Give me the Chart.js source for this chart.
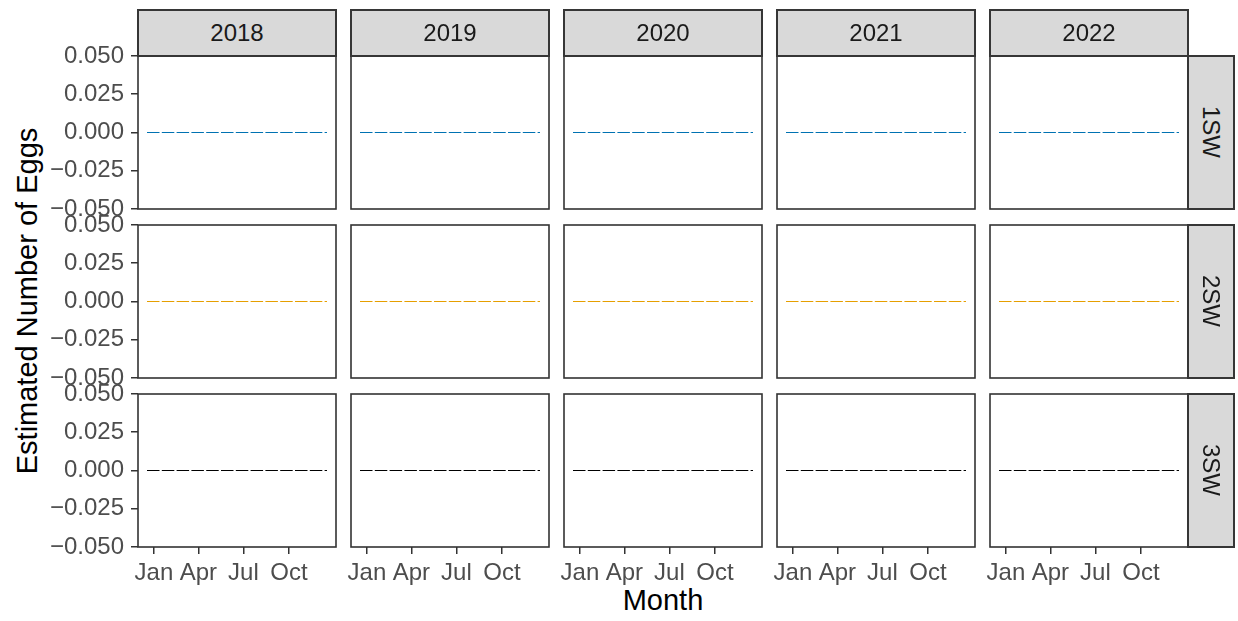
<!DOCTYPE html>
<html lang="en">
<head>
    <meta charset="UTF-8">
    <title>Estimated Number of Eggs</title>
    <script src="https://cdn.jsdelivr.net/npm/chart.js"></script>
    <style>
        body {
            margin: 0;
            width: 1238px;
            height: 621px;
            background: #fff;
            overflow: hidden;
            position: relative;
            font-family: "Liberation Sans", Arial, sans-serif;
        }
        canvas { position: absolute; }
        .strip {
            position: absolute;
            box-sizing: border-box;
            background: #D9D9D9;
            border: 2px solid #363636;
            color: #1A1A1A;
            font-size: 24px;
            display: flex;
            align-items: center;
            justify-content: center;
        }
        .strip.right span { writing-mode: vertical-rl; }
        .title {
            position: absolute;
            font-size: 29px;
            line-height: 1;
            white-space: nowrap;
            color: #000;
        }
    </style>
</head>
<body>
    <div class="title" id="xTitle">Month</div>
    <div class="title" id="yTitle">Estimated Number of Eggs</div>

    <script>
        // facets
        const years = ['2018', '2019', '2020', '2021', '2022'];
        const ageClasses = ['1SW', '2SW', '3SW'];

        // x position of each monthly value, in days from 1 Jan
        const monthDay = [-14, 19, 52, 85, 118, 151, 184, 217, 250, 284, 317, 350];

        // estimated eggs per month (same in every year)
        const eggs1SW = [0, 0, 0, 0, 0, 0, 0, 0, 0, 0, 0, 0];
        const eggs2SW = [0, 0, 0, 0, 0, 0, 0, 0, 0, 0, 0, 0];
        const eggs3SW = [0, 0, 0, 0, 0, 0, 0, 0, 0, 0, 0, 0];

        // axis ticks
        const xTickDays = [0, 90, 181, 273];
        const xTickLabels = ['Jan', 'Apr', 'Jul', 'Oct'];
        const yTickValues = [-0.05, -0.025, 0, 0.025, 0.05];

        const seriesByClass = [eggs1SW, eggs2SW, eggs3SW];
        const lineColors = ['#0072B2', '#E69F00', '#000000'];

        // layout
        const colLeft = [138, 351, 564, 777, 990];
        const rowTop = [56, 225, 394];
        const panelW = 198, panelH = 153;
        const PAD = 28;
        const Y_AXIS_W = 92, X_AXIS_H = 40;
        const FONT = '"Liberation Sans", Arial, sans-serif';

        const xSpan = monthDay[monthDay.length - 1] - monthDay[0];
        const xMin = monthDay[0] - 0.05 * xSpan;
        const xMax = monthDay[monthDay.length - 1] + 0.05 * xSpan;

        const fmtY = (v) => {
            const s = Math.abs(v).toFixed(3);
            return v < 0 ? '\u2212' + s : s;
        };

        const panelBorder = {
            id: 'panelBorder',
            afterDraw(chart) {
                const a = chart.chartArea;
                const ctx = chart.ctx;
                ctx.save();
                ctx.strokeStyle = '#333333';
                ctx.lineWidth = 1.6;
                ctx.strokeRect(a.left, a.top, a.right - a.left, a.bottom - a.top);
                ctx.restore();
            }
        };

        const tickFont = { family: FONT, size: 24 };

        ageClasses.forEach((cls, r) => {
            years.forEach((yr, c) => {
                const showY = c === 0;
                const showX = r === ageClasses.length - 1;
                const yw = showY ? Y_AXIS_W : 0;
                const xh = showX ? X_AXIS_H : 0;

                const canvas = document.createElement('canvas');
                const w = PAD + yw + panelW + PAD;
                const h = PAD + panelH + xh + PAD;
                canvas.width = w;
                canvas.height = h;
                canvas.style.width = w + 'px';
                canvas.style.height = h + 'px';
                canvas.style.left = (colLeft[c] - PAD - yw) + 'px';
                canvas.style.top = (rowTop[r] - PAD) + 'px';
                document.body.appendChild(canvas);

                new Chart(canvas, {
                    type: 'line',
                    data: {
                        datasets: [{
                            label: cls + ' ' + yr,
                            data: monthDay.map((d, i) => ({ x: d, y: seriesByClass[r][i] })),
                            borderColor: lineColors[r],
                            borderWidth: 1.1,
                            borderDash: [12.5, 2.3],
                            pointRadius: 0,
                            fill: false,
                            tension: 0
                        }]
                    },
                    options: {
                        responsive: false,
                        animation: false,
                        devicePixelRatio: 1,
                        layout: { padding: PAD },
                        plugins: { legend: { display: false }, tooltip: { enabled: false } },
                        scales: {
                            x: {
                                type: 'linear',
                                min: xMin,
                                max: xMax,
                                display: showX,
                                afterFit: (s) => { s.height = xh; },
                                afterBuildTicks: (s) => { s.ticks = xTickDays.map(v => ({ value: v })); },
                                ticks: {
                                    callback: (v) => xTickLabels[xTickDays.indexOf(v)],
                                    color: '#4D4D4D',
                                    font: tickFont,
                                    padding: 5,
                                    maxRotation: 0,
                                    autoSkip: false
                                },
                                grid: { drawOnChartArea: false, tickLength: 7, color: '#333333', lineWidth: 1.5 },
                                border: { display: false }
                            },
                            y: {
                                min: -0.05,
                                max: 0.05,
                                display: showY,
                                afterFit: (s) => { s.width = yw; },
                                afterBuildTicks: (s) => { s.ticks = yTickValues.map(v => ({ value: v })); },
                                ticks: {
                                    callback: (v) => fmtY(v),
                                    color: '#4D4D4D',
                                    font: tickFont,
                                    padding: 7,
                                    autoSkip: false
                                },
                                grid: { drawOnChartArea: false, tickLength: 7, color: '#333333', lineWidth: 1.5 },
                                border: { display: false }
                            }
                        }
                    },
                    plugins: [panelBorder]
                });
            });
        });

        // strips
        years.forEach((yr, c) => {
            const d = document.createElement('div');
            d.className = 'strip';
            d.style.left = (colLeft[c] - 1) + 'px';
            d.style.top = '9px';
            d.style.width = (panelW + 2) + 'px';
            d.style.height = (rowTop[0] - 9 + 1) + 'px';
            d.innerHTML = '<span>' + yr + '</span>';
            document.body.appendChild(d);
        });
        ageClasses.forEach((cls, r) => {
            const d = document.createElement('div');
            d.className = 'strip right';
            const left = colLeft[colLeft.length - 1] + panelW - 1;
            d.style.left = left + 'px';
            d.style.top = (rowTop[r] - 1) + 'px';
            d.style.width = (1235 - left) + 'px';
            d.style.height = (panelH + 2) + 'px';
            d.innerHTML = '<span>' + cls + '</span>';
            document.body.appendChild(d);
        });

        // axis titles
        const xt = document.getElementById('xTitle');
        xt.style.left = '663px';
        xt.style.top = '586px';
        xt.style.transform = 'translateX(-50%)';
        const yt = document.getElementById('yTitle');
        yt.style.left = '27px';
        yt.style.top = '301px';
        yt.style.transform = 'translate(-50%, -50%) rotate(-90deg)';
    </script>
</body>
</html>
